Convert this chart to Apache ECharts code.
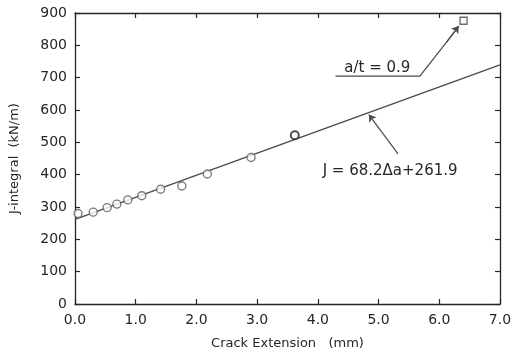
<!DOCTYPE html>
<html>
<head>
<meta charset="utf-8">
<script src="https://cdn.jsdelivr.net/npm/echarts@6/dist/echarts.min.js"></script>
<style>
  html, body { margin: 0; padding: 0; background: #fff; }
  #chart { width: 522px; height: 359px; }
</style>
</head>
<body>
<div id="chart"></div>
<script>
// measured points (circles)
const crackExt = [0.05, 0.30, 0.53, 0.69, 0.87, 1.10, 1.41, 1.76, 2.18, 2.90];
const jValues = [280, 284, 298, 309, 322, 335, 355, 365, 402, 453];
// the heavier circle
const boldPoint = [3.62, 522];
// a/t = 0.9 point (square)
const squarePoint = [6.40, 876];
// fitted line J = 68.2Δa + 261.9
const fitX = [0, 7];
const fitY = [261.9, 739.3];

const ink = "#262626";
const pointColor = "#5e5e5e";
const font = "DejaVu Sans";

const chart = echarts.init(document.getElementById("chart"), null, { renderer: "canvas" });

const frameAxis = {
  show: true,
  axisLine: { show: true, onZero: false, lineStyle: { color: ink, width: 1.3 } },
  axisTick: { show: true, inside: true, length: 5, lineStyle: { color: ink, width: 1.2 } },
  axisLabel: { show: false },
  splitLine: { show: false },
};

const option = {
  animation: false,
  grid: { left: 74, right: 22, top: 13, bottom: 55 },
  xAxis: [
    {
      type: "value", min: 0, max: 7, interval: 1,
      name: "Crack Extension   (mm)", nameLocation: "middle", nameGap: 33,
      nameTextStyle: { color: ink, fontSize: 13, fontFamily: font },
      axisLine: { onZero: false, lineStyle: { color: ink, width: 1.3 } },
      axisTick: { inside: true, length: 5, lineStyle: { color: ink, width: 1.2 } },
      axisLabel: { color: ink, fontSize: 14, fontFamily: font, margin: 9,
        formatter: (v) => v.toFixed(1) },
      splitLine: { show: false },
    },
    Object.assign({ type: "value", min: 0, max: 7, interval: 1, position: "top" }, frameAxis),
  ],
  yAxis: [
    {
      type: "value", min: 0, max: 900, interval: 100,
      name: "J-integral  (kN/m)", nameLocation: "middle", nameGap: 54,
      nameTextStyle: { color: ink, fontSize: 13, fontFamily: font },
      axisLine: { show: true, onZero: false, lineStyle: { color: ink, width: 1.3 } },
      axisTick: { show: true, inside: true, length: 5, lineStyle: { color: ink, width: 1.2 } },
      axisLabel: { color: ink, fontSize: 14, fontFamily: font, margin: 8 },
      splitLine: { show: false },
    },
    Object.assign({ type: "value", min: 0, max: 900, interval: 100, position: "right" }, frameAxis),
  ],
  series: [
    {
      type: "line",
      data: fitX.map((x, i) => [x, fitY[i]]),
      symbol: "none",
      lineStyle: { color: "#4a4a4a", width: 1.3 },
      z: 2,
    },
    {
      type: "scatter",
      data: crackExt.map((x, i) => [x, jValues[i]]),
      symbol: "circle", symbolSize: 8,
      itemStyle: { color: "#fff", borderColor: pointColor, borderWidth: 1.4 },
      z: 3,
    },
    {
      type: "scatter",
      data: [boldPoint],
      symbol: "circle", symbolSize: 8,
      itemStyle: { color: "#fff", borderColor: "#222", borderWidth: 2 },
      z: 3,
    },
    {
      type: "scatter",
      data: [squarePoint],
      symbol: "rect", symbolSize: 7,
      itemStyle: { color: "#fff", borderColor: "#444", borderWidth: 1.3 },
      z: 3,
    },
    // annotation leader lines
    {
      type: "line",
      data: [[4.29, 705], [5.68, 705], [6.32, 858]],
      symbol: "none",
      lineStyle: { color: "#4a4a4a", width: 1.2 },
      silent: true,
      z: 2,
      markLine: {
        silent: true, symbol: ["none", "arrow"], symbolSize: 7,
        lineStyle: { color: "#4a4a4a", width: 1.2, type: "solid" },
        label: { show: false },
        data: [
          [{ coord: [6.12, 810] }, { coord: [6.32, 860] }],
          [{ coord: [5.32, 464] }, { coord: [4.84, 586] }],
        ],
      },
    },
  ],
};
chart.setOption(option);

// annotation texts, positioned in data space
const t1 = chart.convertToPixel({ xAxisIndex: 0, yAxisIndex: 0 }, [4.98, 730]);
const t2 = chart.convertToPixel({ xAxisIndex: 0, yAxisIndex: 0 }, [5.19, 412]);
chart.setOption({
  graphic: [
    { type: "text", x: t1[0], y: t1[1],
      style: { text: "a/t = 0.9", fill: ink, font: "15px '" + font + "'", align: "center", verticalAlign: "middle" } },
    { type: "text", x: t2[0], y: t2[1],
      style: { text: "J = 68.2Δa+261.9", fill: ink, font: "15px '" + font + "'", align: "center", verticalAlign: "middle" } },
  ],
});
</script>
</body>
</html>
